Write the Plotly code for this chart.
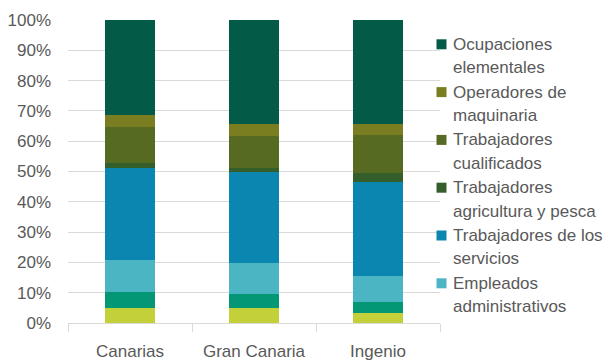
import plotly.graph_objects as go

# ---- data ----
categories = ["Canarias", "Gran Canaria", "Ingenio"]

series_names = [
    "Directores y gerentes",
    "Técnicos y profesionales",
    "Empleados administrativos",
    "Trabajadores de los servicios",
    "Trabajadores agricultura y pesca",
    "Trabajadores cualificados",
    "Operadores de maquinaria",
    "Ocupaciones elementales",
]
# legend labels (two lines each); None = not shown in the legend
legend_labels = [
    None,
    None,
    ["Empleados", "administrativos"],
    ["Trabajadores de los", "servicios"],
    ["Trabajadores", "agricultura y pesca"],
    ["Trabajadores", "cualificados"],
    ["Operadores de", "maquinaria"],
    ["Ocupaciones", "elementales"],
]

directores = [5.0, 5.0, 3.2]
tecnicos = [5.1, 4.6, 3.8]
administrativos = [10.7, 10.1, 8.5]
servicios = [30.5, 30.2, 31.0]
agricultura = [1.6, 1.2, 3.0]
cualificados = [11.8, 10.6, 12.6]
operadores = [3.8, 3.9, 3.5]
elementales = [31.5, 34.4, 34.4]

series_values = [directores, tecnicos, administrativos, servicios,
                 agricultura, cualificados, operadores, elementales]

y_tick_vals = [0, 0.1, 0.2, 0.3, 0.4, 0.5, 0.6, 0.7, 0.8, 0.9, 1.0]

# ---- styles ----
colors = ["#c3d03a", "#049776", "#4cb5c4", "#0a86b0",
          "#345f2a", "#566a21", "#7a7d20", "#035a46"]
FONT = "Liberation Sans, Arial, sans-serif"
TXT = "#595959"
GRID = "#d9d9d9"

W, H = 608, 362
L, R, T, B = 68, 440, 20, 323
pw, ph = R - L, B - T

def px_x(x):
    return (x - L) / pw

def px_y(y):
    return (B - y) / ph

fig = go.Figure()
for name, vals, col in zip(series_names, series_values, colors):
    fig.add_trace(go.Bar(
        x=categories, y=[v / 100 for v in vals], name=name,
        marker=dict(color=col, line=dict(width=0)),
        showlegend=False, hoverinfo="skip",
    ))

# custom legend (top entry first)
annotations = []
shapes = []
entry_top = 44.3
entry_step = 47.8
line_step = 23.4
k = 0
for lab, col in zip(reversed(legend_labels), reversed(colors)):
    if lab is None:
        continue
    cy = entry_top + k * entry_step
    shapes.append(dict(type="rect", xref="paper", yref="paper",
                       x0=px_x(436.5), x1=px_x(446.5),
                       y0=px_y(cy - 5), y1=px_y(cy + 5),
                       fillcolor=col, line=dict(width=0), layer="above"))
    for j, line in enumerate(lab):
        annotations.append(dict(
            text=line, xref="paper", yref="paper",
            x=px_x(451), y=px_y(cy + j * line_step),
            xanchor="left", yanchor="middle", showarrow=False,
            font=dict(family=FONT, size=17, color=TXT)))
    k += 1

fig.update_layout(
    width=W, height=H,
    margin=dict(l=L, r=W - R, t=T, b=H - B, pad=0, autoexpand=False),
    paper_bgcolor="white", plot_bgcolor="white",
    barmode="stack", bargap=0.6,
    showlegend=False,
    font=dict(family=FONT, size=17, color=TXT),
    annotations=annotations, shapes=shapes,
)
fig.update_xaxes(
    automargin=False,
    showline=True, linecolor=GRID, linewidth=1,
    ticks="outside", tickson="boundaries", ticklen=8, tickcolor=GRID,
    tickfont=dict(family=FONT, size=17, color=TXT),
    showgrid=False, ticklabelstandoff=13,
)
fig.update_yaxes(
    automargin=False,
    range=[0, 1], tickvals=y_tick_vals, tickformat=".0%",
    showgrid=True, gridcolor=GRID, gridwidth=1,
    zeroline=False, showline=False, ticks="",
    tickfont=dict(family=FONT, size=17, color=TXT),
    ticklabelstandoff=16,
)

fig.write_html(
    "out.html",
    config={"displayModeBar": False},
    post_script="document.body.style.margin='0';document.body.style.overflow='hidden';",
)
